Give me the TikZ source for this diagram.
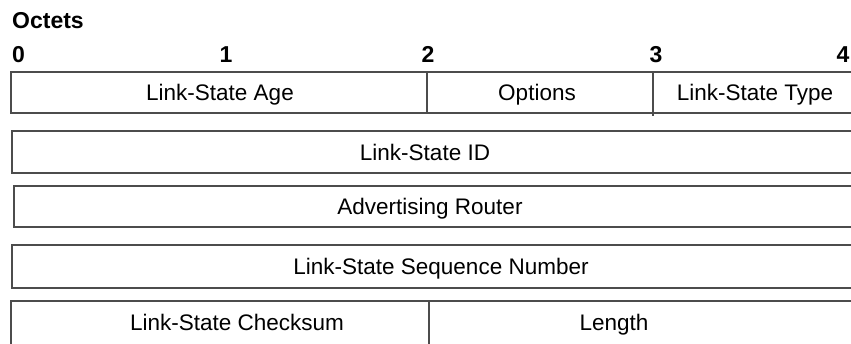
\documentclass[tikz,border=0pt]{standalone}
\usepackage{fontspec}
\setmainfont{Liberation Sans}
\usetikzlibrary{positioning}
\tikzset{
  field/.style={draw=black!70,line width=1.3pt,rectangle,inner sep=0pt,outer sep=0pt,anchor=north west},
  fieldtext/.style={font=\fontsize{22.5}{26}\selectfont,anchor=base,inner sep=0pt},
  octnum/.style={font=\bfseries\fontsize{23}{26}\selectfont,anchor=base,inner sep=0pt}
}

\begin{document}
\begin{tikzpicture}[x=1pt,y=-1pt]
  \useasboundingbox (0,0) rectangle (851,343);
  % octet scale
  \node[octnum,anchor=base west] (oct) at (12,28) {Octets};
  \node[octnum] (n0) at (18.5,62) {0};
  \node[octnum] (n1) at (226,62) {1};
  \node[octnum] (n2) at (428,62) {2};
  \node[octnum] (n3) at (656,62) {3};
  \node[octnum] (n4) at (843,62) {4};
  % first word
  \node[field,minimum width=416pt,minimum height=41pt] (age) at (11,72) {};
  \node[field,minimum width=226pt,minimum height=41pt] (opts) at (age.north east) {};
  \node[field,minimum width=205pt,minimum height=41pt] (type) at (opts.north east) {};
  \draw[draw=black!70,line width=1.3pt] (opts.south east) -- ++(0,3);
  % full-width words
  \node[field,minimum width=846pt,minimum height=42pt] (lsid) at (12,131) {};
  \node[field,minimum width=844pt,minimum height=41pt] (adv) at (14,186) {};
  \node[field,minimum width=846pt,minimum height=43pt] (seq) at (12,245) {};
  % last word
  \node[field,minimum width=418pt,minimum height=50pt] (cksum) at (11,301) {};
  \node[field,minimum width=429pt,minimum height=50pt] (len) at (cksum.north east) {};
  % field names
  \node[fieldtext] (agetxt) at (220,100.5) {Link-State Age};
  \node[fieldtext] (optstxt) at (537,100.5) {Options};
  \node[fieldtext] (typetxt) at (755,100.5) {Link-State Type};
  \node[fieldtext] (lsidtxt) at (425,160) {Link-State ID};
  \node[fieldtext] (advtxt) at (430,214.5) {Advertising Router};
  \node[fieldtext] (seqtxt) at (441,274.5) {Link-State Sequence Number};
  \node[fieldtext] (cksumtxt) at (237,330) {Link-State Checksum};
  \node[fieldtext] (lentxt) at (614,330) {Length};
\end{tikzpicture}
\end{document}
